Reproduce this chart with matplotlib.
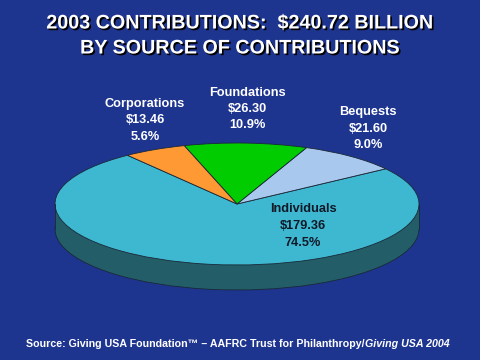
import matplotlib
matplotlib.use("Agg")
import matplotlib.pyplot as plt
import matplotlib.patheffects as pe
from matplotlib.patches import Rectangle
from matplotlib.transforms import Affine2D

# data (billions of dollars, 2003)
sources = ['Individuals', 'Bequests', 'Foundations', 'Corporations']
amounts = [179.36, 21.60, 26.30, 13.46]
shares = ['74.5%', '9.0%', '10.9%', '5.6%']
total = '$240.72'

top_colors = ['#3db8d0', '#a9c8ee', '#00cc00', '#ff9933']
side_color = '#235e68'
bg = '#1e3590'

W, H = 480, 360
fig = plt.figure(figsize=(W / 100, H / 100), dpi=100, facecolor=bg)
ax = fig.add_axes([0, 0, 1, 1])
ax.axis('off')

# pie geometry in pixels: centre (237, 204), rx 182, ry 61, depth 25
cx, cy, rx, ry, depth = 237, 204, 182, 61, 25
d = depth / ry
start = 127

edge = dict(edgecolor='#1a2838', linewidth=0.6)
ax.pie(amounts, colors=[side_color] * 4, startangle=start, center=(0, -d),
       wedgeprops=edge)
ax.add_patch(Rectangle((-1, -d), 2, d, facecolor=side_color, edgecolor='none'))
ax.plot([-1, -1], [0, -d], color='#1a2838', lw=0.6)
ax.plot([1, 1], [0, -d], color='#1a2838', lw=0.6)
ax.pie(amounts, colors=top_colors, startangle=start, wedgeprops=edge)

ax.set_aspect('auto')
ax.set_xlim(-cx / rx, (W - cx) / rx)
ax.set_ylim((cy - H) / ry, cy / ry)

# text positions given in image pixels
pix = Affine2D().scale(1 / W, -1 / H).translate(0, 1) + fig.transFigure

shadow = [pe.SimplePatchShadow(offset=(1.2, -1.2), shadow_rgbFace='black', alpha=1.0), pe.Normal()]
title_font = ['Liberation Sans', 'DejaVu Sans']
fig.text(240, 23, '2003 CONTRIBUTIONS:  ' + total + ' BILLION', transform=pix,
         ha='center', va='center', color='white', fontsize=14.2, fontweight='bold',
         family=title_font, path_effects=shadow)
fig.text(240, 48, 'BY SOURCE OF CONTRIBUTIONS', transform=pix,
         ha='center', va='center', color='white', fontsize=14.2, fontweight='bold',
         family=title_font, path_effects=shadow)

label_font = ['Liberation Sans Narrow', 'Liberation Sans', 'DejaVu Sans']
label_pos = {'Individuals': (303, 226), 'Bequests': (368, 129),
             'Foundations': (247, 109), 'Corporations': (145, 120)}
label_col = {'Individuals': '#101828', 'Bequests': 'white',
             'Foundations': 'white', 'Corporations': 'white'}
for name, amt, sh in zip(sources, amounts, shares):
    x, y = label_pos[name]
    fig.text(x, y, f'{name}\n${amt:.2f}\n{sh}', transform=pix, ha='center',
             va='center', multialignment='center', linespacing=1.5,
             color=label_col[name], fontsize=9.2, fontweight='bold', family=label_font)

src = fig.text(26, 344, 'Source: Giving USA Foundation\u2122 \u2013 AAFRC Trust for Philanthropy/',
               transform=pix, ha='left', va='center', color='white', fontsize=7.7,
               fontweight='bold', family=title_font)
ax.annotate('Giving USA 2004', xy=(1, 0), xycoords=src, ha='left', va='bottom',
            color='white', fontsize=7.7, fontweight='bold', fontstyle='italic',
            family=title_font)

fig.savefig('out.png', dpi=100, facecolor=bg)
